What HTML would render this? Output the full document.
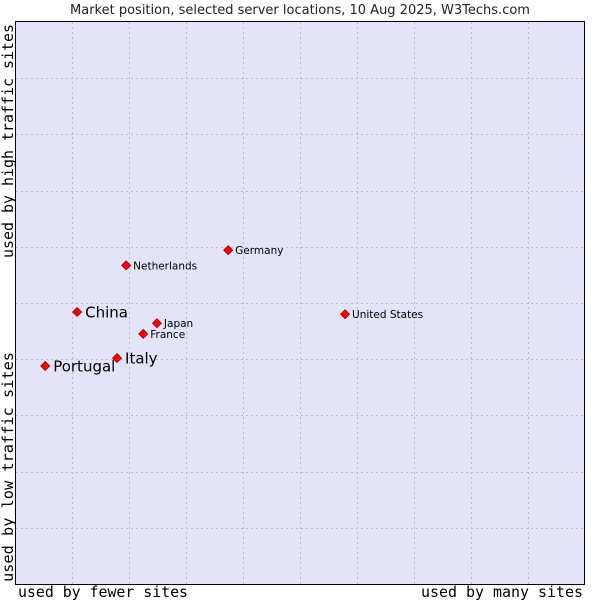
<!DOCTYPE html>
<html><head><meta charset="utf-8"><style>
body{margin:0;background:#fff;width:600px;height:600px;overflow:hidden}
svg text{font-family:"DejaVu Sans","Liberation Sans",sans-serif}
.mono{font-family:"DejaVu Sans Mono","Liberation Mono",monospace}
</style></head><body>
<svg id="chart" width="600" height="600">
<text x="300" y="14" text-anchor="middle" font-size="13" fill="#222">Market position, selected server locations, 10 Aug 2025, W3Techs.com</text>
<rect x="15.5" y="21.5" width="569" height="563" fill="#e3e4f8" stroke="#000"/>
<g id="grid"></g>
<g id="marks"></g>
<text class="mono" x="18" y="597" font-size="15" textLength="170" lengthAdjust="spacingAndGlyphs" fill="#000">used by fewer sites</text>
<text class="mono" x="421" y="597" font-size="15" textLength="162" lengthAdjust="spacingAndGlyphs" fill="#000">used by many sites</text>
<text class="mono" transform="translate(13,258) rotate(-90)" font-size="15" textLength="234" lengthAdjust="spacingAndGlyphs" fill="#000">used by high traffic sites</text>
<text class="mono" transform="translate(13,582) rotate(-90)" font-size="15" textLength="230" lengthAdjust="spacingAndGlyphs" fill="#000">used by low traffic sites</text>
</svg>
<script>
const countries=["Portugal","China","Italy","Netherlands","France","Japan","Germany","United States"];
const xValues=[5.3,10.9,17.9,19.5,22.5,24.9,37.4,57.9];
const yValues=[38.8,48.4,40.2,56.7,44.5,46.4,59.4,48.0];
const bigLabel=[true,true,true,false,false,false,false,false];
const ns="http://www.w3.org/2000/svg";
const X=v=>15+v*5.7, Y=v=>584-v*5.62;
const grid=document.getElementById('grid'), marks=document.getElementById('marks');
for(let i=1;i<10;i++){
  let l=document.createElementNS(ns,'line');
  
  
  let x=Math.round(X(i*10))+0.5;
  l.setAttribute('x1',x);l.setAttribute('x2',x);l.setAttribute('y1',22);l.setAttribute('y2',584);
  l.setAttribute('stroke','#bcbcc4');l.setAttribute('stroke-dasharray','2,3');grid.appendChild(l);
  let h=document.createElementNS(ns,'line');
  
  
  let y=Math.round(Y(i*10))+0.5;
  h.setAttribute('x1',16);h.setAttribute('x2',584);h.setAttribute('y1',y);h.setAttribute('y2',y);
  h.setAttribute('stroke','#bcbcc4');h.setAttribute('stroke-dasharray','2,3');grid.appendChild(h);
}
countries.forEach((c,i)=>{
  const x=X(xValues[i]), y=Y(yValues[i]);
  const p=document.createElementNS(ns,'polygon');
  
  
  p.setAttribute('points',`${x},${y-4.5} ${x+4.5},${y} ${x},${y+4.5} ${x-4.5},${y}`);
  p.setAttribute('fill','#ff0000');p.setAttribute('stroke','#900');p.setAttribute('stroke-width','0.8');
  marks.appendChild(p);
  const t=document.createElementNS(ns,'text');
  
  
  t.setAttribute('x',x+(bigLabel[i]?8:7));
  t.setAttribute('y',y+(bigLabel[i]?5.5:4));
  t.setAttribute('font-size',bigLabel[i]?15:10.5);
  t.setAttribute('fill','#000');
  t.textContent=c;marks.appendChild(t);
});
</script>
</body></html>
